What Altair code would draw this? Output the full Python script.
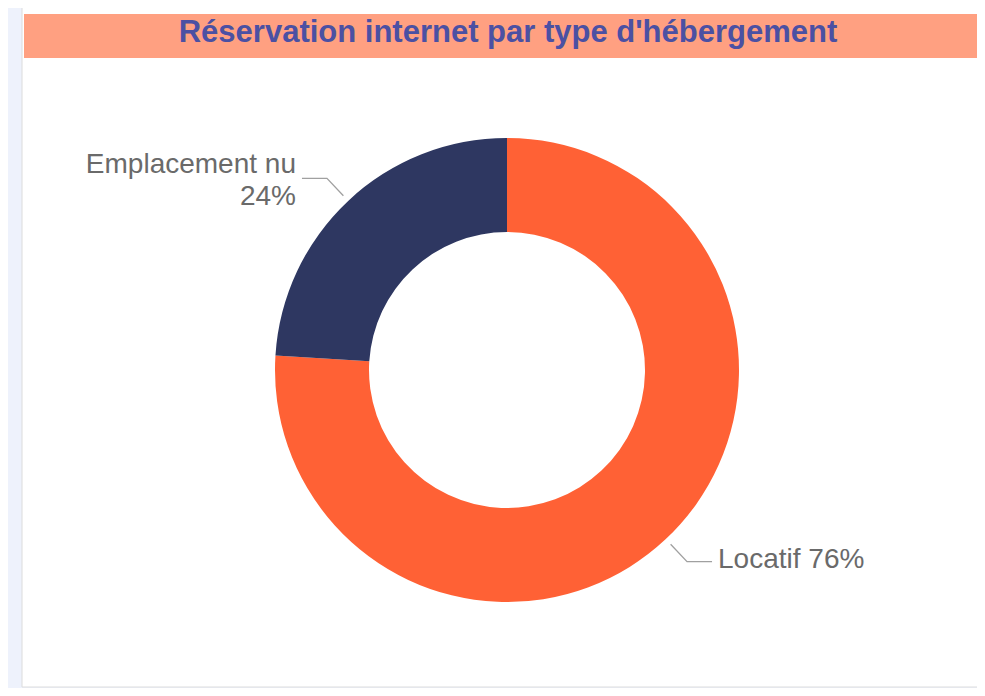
import math
import altair as alt
import pandas as pd

# ---- data -------------------------------------------------------------
TITLE = "Réservation internet par type d'hébergement"
CATEGORIES = ["Locatif", "Emplacement nu"]
SHARES = [76, 24]
LABELS = ["Locatif 76%", "Emplacement nu\n24%"]
COLORS = ["#FF6135", "#2E3761"]

# ---- layout (pixels) --------------------------------------------------
W, H = 969, 680
CX, CY = 499, 362          # donut centre inside the chart
R_OUT, R_IN = 232, 138
R_LINE1, R_LINE2 = 239, 263
HSEG = 25
LABEL_GAP = 6
LINE_H = 32

df_arc = pd.DataFrame({"cat": CATEGORIES, "share": SHARES, "idx": range(len(CATEGORIES))})

# leader lines and label anchors derived from the shares
total = sum(SHARES)
cum = 0.0
line_rows, label_rows = [], []
for i, (cat, s, lab) in enumerate(zip(CATEGORIES, SHARES, LABELS)):
    mid = (cum + s / 2) / total * 2 * math.pi
    cum += s
    sx, cy_ = math.sin(mid), math.cos(mid)
    side = 1 if sx >= 0 else -1
    p1 = (R_LINE1 * sx, R_LINE1 * cy_)
    p2 = (R_LINE2 * sx, R_LINE2 * cy_)
    p3 = (p2[0] + side * HSEG, p2[1])
    for k, p in enumerate([p1, p2, p3]):
        line_rows.append({"cat": cat, "k": k, "x": p[0], "y": p[1]})
    label_rows.append({"cat": cat, "label": lab, "x": p3[0] + side * LABEL_GAP,
                       "y": p2[1], "side": "right" if side > 0 else "left"})
df_line = pd.DataFrame(line_rows)
df_lab = pd.DataFrame(label_rows)

xs = alt.Scale(domain=[-CX, W - CX], range=[0, W])
ys = alt.Scale(domain=[CY - H, CY], range=[H, 0])

card = alt.Chart(pd.DataFrame({"a": [0]})).mark_rect(
    fill="white", stroke="#dcdcdc", strokeWidth=1
).encode(x=alt.value(14), x2=alt.value(W + 2), y=alt.value(-2), y2=alt.value(H - 1))

bar = alt.Chart(pd.DataFrame({"a": [0]})).mark_rect(fill="#FFA081").encode(
    x=alt.value(16), x2=alt.value(W + 2), y=alt.value(6), y2=alt.value(50)
)

title = alt.Chart(pd.DataFrame({"t": [TITLE]})).mark_text(
    font="Liberation Sans", fontSize=31, fontWeight="bold", color="#4B50A3",
    align="center", baseline="middle"
).encode(text="t:N", x=alt.value(500), y=alt.value(25))

donut = alt.Chart(df_arc).mark_arc(outerRadius=R_OUT, innerRadius=R_IN).encode(
    theta=alt.Theta("share:Q", stack=True),
    color=alt.Color("cat:N", scale=alt.Scale(domain=CATEGORIES, range=COLORS), legend=None),
    order=alt.Order("idx:Q"),
    x=alt.value(CX), y=alt.value(CY),
)

leaders = alt.Chart(df_line).mark_line(color="#A0A0A0", strokeWidth=1.3).encode(
    x=alt.X("x:Q", scale=xs, axis=None),
    y=alt.Y("y:Q", scale=ys, axis=None),
    detail="cat:N",
    order="k:Q",
)

def label_layer(side, align, dy):
    return alt.Chart(df_lab).transform_filter(alt.datum.side == side).mark_text(
        font="Liberation Sans", fontSize=28, color="#6A6A6A", align=align,
        baseline="middle", lineBreak="\n", lineHeight=LINE_H, dy=dy
    ).encode(
        x=alt.X("x:Q", scale=xs, axis=None),
        y=alt.Y("y:Q", scale=ys, axis=None),
        text="label:N",
    )

chart = alt.layer(
    card, bar, title, donut, leaders,
    label_layer("right", "left", -2), label_layer("left", "right", -LINE_H / 2 + 3),
).properties(
    width=W, height=H, padding=0, autosize=alt.AutoSizeParams(type="none"),
    background="#EEF2FC",
).configure_view(stroke=None)

chart.save("out.html", embed_options={"renderer": "svg", "actions": False})
